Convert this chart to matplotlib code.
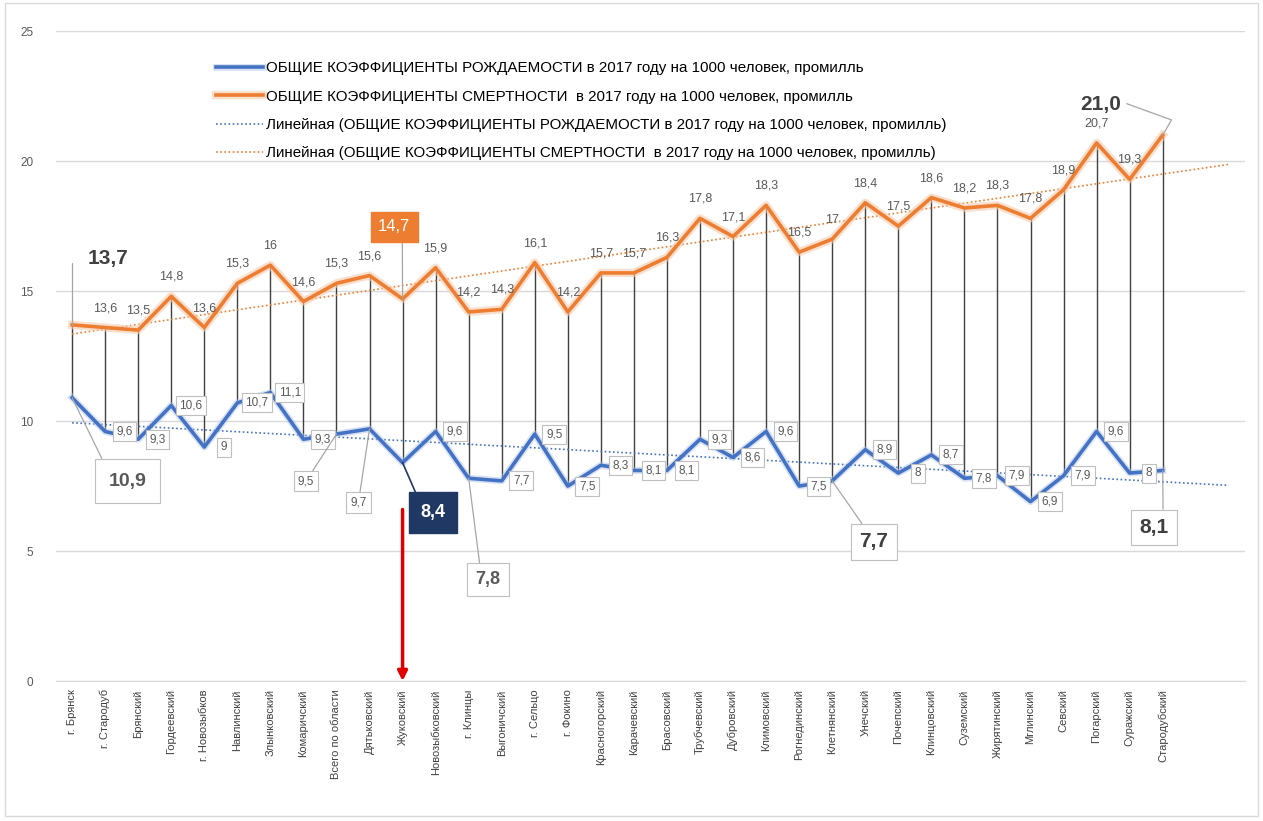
import matplotlib
matplotlib.use("Agg")
import matplotlib.pyplot as plt
import matplotlib.patheffects as pe
from matplotlib.patches import Rectangle
import numpy as np

plt.rcParams['font.family'] = ['Liberation Sans', 'DejaVu Sans']

districts = ['г. Брянск', 'г. Стародуб', 'Брянский', 'Гордеевский', 'г. Новозыбков',
             'Навлинский', 'Злынковский', 'Комаричский', 'Всего по области', 'Дятьковский',
             'Жуковский', 'Новозыбковский', 'г. Клинцы', 'Выгоничский', 'г. Сельцо',
             'г. Фокино', 'Красногорский', 'Карачевский', 'Брасовский', 'Трубчевский',
             'Дубровский', 'Климовский', 'Рогнединский', 'Клетнянский', 'Унечский',
             'Почепский', 'Клинцовский', 'Суземский', 'Жирятинский', 'Мглинский',
             'Севский', 'Погарский', 'Суражский', 'Стародубский']
birth = [10.9, 9.6, 9.3, 10.6, 9.0, 10.7, 11.1, 9.3, 9.5, 9.7,
         8.4, 9.6, 7.8, 7.7, 9.5, 7.5, 8.3, 8.1, 8.1, 9.3,
         8.6, 9.6, 7.5, 7.7, 8.9, 8.0, 8.7, 7.8, 7.9, 6.9,
         7.9, 9.6, 8.0, 8.1]
death = [13.7, 13.6, 13.5, 14.8, 13.6, 15.3, 16.0, 14.6, 15.3, 15.6,
         14.7, 15.9, 14.2, 14.3, 16.1, 14.2, 15.7, 15.7, 16.3, 17.8,
         17.1, 18.3, 16.5, 17.0, 18.4, 17.5, 18.6, 18.2, 18.3, 17.8,
         18.9, 20.7, 19.3, 21.0]

lbl_birth = 'ОБЩИЕ КОЭФФИЦИЕНТЫ РОЖДАЕМОСТИ в 2017 году на 1000 человек, промилль'
lbl_death = 'ОБЩИЕ КОЭФФИЦИЕНТЫ СМЕРТНОСТИ  в 2017 году на 1000 человек, промилль'

BLUE = '#4472C4'
ORANGE = '#ED7D31'
GRAY = '#595959'

def fmt(v):
    s = ('%.1f' % v).replace('.', ',')
    return s[:-2] if s.endswith(',0') else s

x = np.arange(len(districts))
fig = plt.figure(figsize=(12.63, 8.21), dpi=100)
ax = fig.add_axes([0.044, 0.1705, 0.942, 0.7915])

# high-low lines
ax.vlines(x, birth, death, color='#404040', lw=1.0, zorder=2)

glow_o = [pe.Stroke(linewidth=6, foreground='#F8CBAD', alpha=0.6), pe.Normal()]
glow_b = [pe.Stroke(linewidth=5, foreground='#B4C7E7', alpha=0.5), pe.Normal()]
ax.plot(x, birth, color=BLUE, lw=2.6, zorder=3, label=lbl_birth, path_effects=glow_b)
ax.plot(x, death, color=ORANGE, lw=2.6, zorder=3, label=lbl_death, path_effects=glow_o)

# linear trends, forecast 2 periods forward
xt = np.arange(len(districts) + 2)
kb = np.polyfit(x, birth, 1)
kd = np.polyfit(x, death, 1)
ax.plot(xt, np.polyval(kb, xt), color=BLUE, lw=1.2, ls=(0, (1, 1.5)), zorder=2,
        label='Линейная (' + lbl_birth + ')')
ax.plot(xt, np.polyval(kd, xt), color=ORANGE, lw=1.2, ls=(0, (1, 1.5)), zorder=2,
        label='Линейная (' + lbl_death + ')')

ax.set_xlim(-0.5, 35.5)
ax.set_ylim(0, 25)
ax.set_yticks([0, 5, 10, 15, 20, 25])
ax.yaxis.grid(True, color='#D9D9D9', lw=1)
ax.set_axisbelow(True)
for s in ['top', 'right', 'left']:
    ax.spines[s].set_visible(False)
ax.spines['bottom'].set_color('#D9D9D9')
ax.tick_params(axis='y', length=0, labelcolor=GRAY, labelsize=8.5, pad=16)
ax.set_xticks(x)
ax.set_xticklabels(districts, rotation=90, fontsize=8, color='#404040')
ax.tick_params(axis='x', length=0, pad=6)

# ordinary data labels
skip_d = {0, 10, 33}
skip_b = {0, 8, 9, 10, 12, 23, 33}
for i in x:
    if i not in skip_d:
        ax.annotate(fmt(death[i]), (i, death[i]), xytext=(0, 14), textcoords='offset points',
                    ha='center', va='center', fontsize=9, color=GRAY, zorder=5)
    if i not in skip_b:
        ax.annotate(fmt(birth[i]), (i, birth[i]), xytext=(14, 0), textcoords='offset points',
                    ha='center', va='center', fontsize=8.5, color=GRAY, zorder=5,
                    bbox=dict(boxstyle='square,pad=0.3', fc='white', ec='#BFBFBF', lw=0.8))

box_g = dict(boxstyle='square,pad=0.35', fc='white', ec='#BFBFBF', lw=0.8)
arr_g = dict(arrowstyle='-', color='#A6A6A6', lw=0.9, shrinkA=0, shrinkB=0)

# highlighted labels
ax.annotate(fmt(birth[8]), (8, birth[8]), xytext=(-22, -34), textcoords='offset points',
            ha='center', va='center', fontsize=8.5, color=GRAY, bbox=box_g, arrowprops=arr_g, zorder=5)
ax.annotate(fmt(birth[9]), (9, birth[9]), xytext=(-8, -53), textcoords='offset points',
            ha='center', va='center', fontsize=8.5, color=GRAY, bbox=box_g, arrowprops=arr_g, zorder=5)

ax.annotate('13,7', (0, death[0]), xytext=(26, 48), textcoords='offset points',
            ha='center', va='center', fontsize=15, fontweight='bold', color='#404040',
            arrowprops=dict(arrowstyle='-', color='#A6A6A6', lw=0.9, shrinkA=10, shrinkB=0,
                            connectionstyle='angle,angleA=180,angleB=90,rad=0'), zorder=5)
ax.annotate('10,9', (0, birth[0]), xytext=(40, -60), textcoords='offset points',
            ha='center', va='center', fontsize=14, fontweight='bold', color=GRAY,
            bbox=dict(boxstyle='square,pad=0.7', fc='white', ec='#BFBFBF', lw=0.8),
            arrowprops=dict(arrowstyle='-', color='#A6A6A6', lw=0.9, shrinkA=0, shrinkB=0,
                            relpos=(0.0, 1.0)), zorder=5)
ax.annotate('14,7', (10, death[10]), xytext=(-6, 52), textcoords='offset points',
            ha='center', va='center', fontsize=12, color='white',
            bbox=dict(boxstyle='square,pad=0.45', fc=ORANGE, ec=ORANGE),
            arrowprops=dict(arrowstyle='-', color='#A6A6A6', lw=0.9, shrinkA=0, shrinkB=0,
                            relpos=(0.75, 0.0)), zorder=5)
ax.annotate('8,4', (10, birth[10]), xytext=(22, -36), textcoords='offset points',
            ha='center', va='center', fontsize=13, fontweight='bold', color='white',
            bbox=dict(boxstyle='square,pad=0.65', fc='#1F3864', ec='#1F3864'),
            arrowprops=dict(arrowstyle='-', color='#1F3864', lw=1.2, shrinkA=0, shrinkB=0,
                            relpos=(0.0, 1.0)), zorder=5)
ax.annotate('7,8', (12, birth[12]), xytext=(14, -73), textcoords='offset points',
            ha='center', va='center', fontsize=13, fontweight='bold', color=GRAY,
            bbox=dict(boxstyle='square,pad=0.45', fc='white', ec='#BFBFBF', lw=0.8),
            arrowprops=dict(arrowstyle='-', color='#A6A6A6', lw=0.9, shrinkA=0, shrinkB=0,
                            relpos=(0.2, 1.0)), zorder=5)
ax.annotate('7,7', (23, birth[23]), xytext=(30, -44), textcoords='offset points',
            ha='center', va='center', fontsize=15, fontweight='bold', color='#404040',
            bbox=dict(boxstyle='square,pad=0.4', fc='white', ec='#BFBFBF', lw=0.8),
            arrowprops=dict(arrowstyle='-', color='#A6A6A6', lw=0.9, shrinkA=0, shrinkB=0,
                            relpos=(0.3, 1.0)), zorder=5)
ax.annotate('8,1', (33, birth[33]), xytext=(-6, -41), textcoords='offset points',
            ha='center', va='center', fontsize=15, fontweight='bold', color='#404040',
            bbox=dict(boxstyle='square,pad=0.4', fc='white', ec='#BFBFBF', lw=0.8),
            arrowprops=dict(arrowstyle='-', color='#A6A6A6', lw=0.9, shrinkA=0, shrinkB=0,
                            relpos=(0.8, 1.0)), zorder=5)
ax.annotate('21,0', (33, death[33]), xytext=(-45, 22), textcoords='offset points',
            ha='center', va='center', fontsize=15, fontweight='bold', color='#404040',
            arrowprops=dict(arrowstyle='-', color='#A6A6A6', lw=0.9, shrinkA=0, shrinkB=0,
                            relpos=(1.15, 0.55),
                            connectionstyle='angle,angleA=-20,angleB=60,rad=0'), zorder=5)

# red arrow pointing to Жуковский
ax.annotate('', xy=(10, 0), xytext=(10, 6.6),
            arrowprops=dict(arrowstyle='-|>', color='#E00000', lw=2.5, mutation_scale=14,
                            shrinkA=0, shrinkB=0), zorder=6, annotation_clip=False)

ax.legend(loc='upper left', bbox_to_anchor=(0.160, 0.942), bbox_transform=fig.transFigure,
          frameon=False, fontsize=10.9, handlelength=3.1, handletextpad=0.25,
          labelspacing=0.95)

fig.patches.append(Rectangle((0.004, 0.006), 0.992, 0.99, transform=fig.transFigure,
                             fill=False, ec='#D9D9D9', lw=1))

fig.savefig('out.png', dpi=100)
